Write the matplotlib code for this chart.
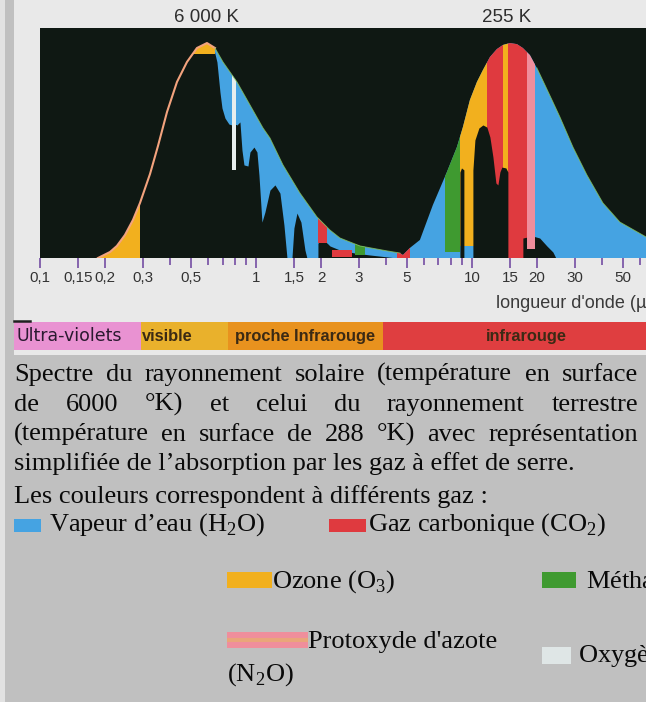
import matplotlib.pyplot as plt
from matplotlib import font_manager
from matplotlib.lines import Line2D
from matplotlib.patches import Polygon, Rectangle

plt.rcParams["mathtext.fontset"] = "custom"
plt.rcParams["mathtext.rm"] = "Liberation Serif"

W, H = 646, 702

# Sun (6000 K) and Earth (255 K) spectra: wavelength in µm, intensity relative to peak
SOLAR_WL = [0.1855, 0.211, 0.227, 0.2474, 0.2695, 0.2904, 0.3232, 0.3518, 0.3873,
            0.4308, 0.4793, 0.5332, 0.5931, 0.6459, 0.7034, 0.8166, 0.9381, 1.0775,
            1.161, 1.3335, 1.5986, 1.9156, 2.2009, 2.4484, 3.0303, 4.042, 4.642]
SOLAR_I = [0.0, 0.028, 0.056, 0.107, 0.177, 0.256, 0.391, 0.521, 0.679,
           0.819, 0.912, 0.977, 1.0, 0.977, 0.912, 0.819, 0.712, 0.605,
           0.558, 0.433, 0.302, 0.191, 0.130, 0.093, 0.056, 0.033, 0.023]

EARTH_WL = [4.793, 5.164, 5.745, 6.598, 7.661, 8.521, 9.084, 9.789, 10.55, 11.24,
            12.12, 13.05, 13.91, 14.99, 16.16, 17.22, 18.56, 19.99, 21.78, 23.71,
            25.55, 27.53, 29.36, 34.08, 40.42, 48.44, 64.0]
EARTH_I = [0.014, 0.047, 0.084, 0.247, 0.400, 0.516, 0.609, 0.735, 0.819, 0.874,
           0.935, 0.972, 0.991, 1.0, 0.995, 0.977, 0.944, 0.884, 0.805, 0.726,
           0.656, 0.581, 0.516, 0.386, 0.256, 0.167, 0.098]

# sunlight that gets through the water-vapour bands (top of the dark area)
PASS_WL = [0.640, 0.6597, 0.6813, 0.6961, 0.7187, 0.7499, 0.774, 0.8166, 0.8432,
           0.8615, 0.8799, 0.9183, 0.9381, 0.9788, 1.0107, 1.0325, 1.0661, 1.1007,
           1.161, 1.2246, 1.2915, 1.3479, 1.3919, 1.4678, 1.4994, 1.5482, 1.6155,
           1.6859, 1.7221, 1.9365, 1.9365, 2.1317, 2.2009, 2.4484, 2.8729, 3.3715,
           4.4966]
PASS_I = [0.967, 0.912, 0.772, 0.698, 0.651, 0.623, 0.619, 0.619, 0.633,
          0.502, 0.433, 0.428, 0.493, 0.516, 0.493, 0.386, 0.167, 0.214,
          0.316, 0.340, 0.302, 0.153, 0.0, 0.0, 0.140, 0.209, 0.167,
          0.037, 0.0, 0.0, 0.070, 0.070, 0.056, 0.037, 0.023, 0.014,
          0.0]

# atmospheric windows of the terrestrial spectrum
WINDOWS = [
    ([8.80, 8.80, 8.95, 9.18, 9.18], [0.0, 0.40, 0.419, 0.41, 0.0]),
    ([10.107, 10.107, 10.325, 10.776, 11.243, 11.73, 12.115, 12.513, 12.915,
      13.195, 13.476, 13.766, 14.366, 14.676, 14.676],
     [0.0, 0.409, 0.549, 0.605, 0.619, 0.609, 0.563, 0.470, 0.349,
      0.340, 0.400, 0.423, 0.419, 0.40, 0.0]),
    ([17.22, 17.22, 17.97, 19.16, 20.6, 22.24, 23.71, 24.48],
     [0.0, 0.093, 0.097, 0.102, 0.093, 0.056, 0.028, 0.0]),
]

# absorption bands: gas, from µm, to µm, lower edge, upper edge (None = spectrum)
BANDS_BACK = [
    ("H2O", 0.6459, 64.0, 0.0, None),
    ("O3", 0.1855, 0.2904, 0.0, None),
    ("CH4", 7.50, 8.80, 0.028, None),
    ("O3", 8.80, 11.73, 0.056, None),
    ("CO2", 11.73, 13.91, 0.0, None),
    ("O3", 13.91, 14.68, 0.0, None),
    ("CO2", 14.68, 17.97, 0.0, None),
]
BANDS_FRONT = [
    ("O3", 0.50, 0.6459, 0.95, None),
    ("O2", 0.774, 0.812, 0.409, None),
    ("CO2", 1.936, 2.132, 0.07, None),
    ("CO2", 2.249, 2.78, 0.005, 0.037),
    ("CH4", 2.87, 3.20, 0.014, None),
    ("CO2", 4.50, 5.16, 0.0, None),
    ("N2O", 17.97, 19.57, 0.04, None),
]
GAS_COLORS = {"H2O": "#45a3e2", "CO2": "#df3a3f", "O3": "#f2b01e",
              "CH4": "#3f9a30", "N2O": "#ef8e9c", "O2": "#e6eeee"}
BG = "#0f1813"

MAJOR = [0.1, 0.15, 0.2, 0.3, 0.5, 1, 1.5, 2, 3, 5, 10, 15, 20, 30, 50]
MAJOR_LABELS = ["0,1", "0,15", "0,2", "0,3", "0,5", "1", "1,5", "2", "3", "5",
                "10", "15", "20", "30", "50"]
MINOR = [0.4, 0.6, 0.7, 0.8, 0.9, 4, 6, 7, 8, 9, 40, 60]

RANGE_EDGES = [0.0758, 0.2935, 0.741, 3.87, 64.0]
RANGE_NAMES = ["Ultra-violets", "visible", "proche Infrarouge", "infrarouge"]
RANGE_COLORS = ["#e992d2", "#e9b12c", "#e8921e", "#df3e40"]
RANGE_TEXT_X = [16, 142, 235, 486]

CAPTION = [
    "Spectre du rayonnement solaire (température en surface",
    "de 6000 °K) et celui du rayonnement terrestre",
    "(température en surface de 288 °K) avec représentation",
    "simplifiée de l’absorption par les gaz à effet de serre.",
    "Les couleurs correspondent à différents gaz :",
]
CAPTION_BASE = [381, 411, 441, 470, 503]

# legend: gas, swatch box (x0, y0, x1, y1) in pixels, label, label position
LEGEND = [
    ("H2O", (14, 519, 41, 532), r"Vapeur d’eau (H$_\mathrm{2}$O)", (49, 531)),
    ("CO2", (329, 519, 366, 532), r"Gaz carbonique (CO$_\mathrm{2}$)", (368, 531)),
    ("O3", (227, 572, 272, 588), r"Ozone (O$_\mathrm{3}$)", (272, 588)),
    ("CH4", (542, 572, 576, 588), r"Méthane (CH$_\mathrm{4}$)", (586, 588)),
    ("N2O", (227, 632, 308, 648), "Protoxyde d'azote", (308, 648)),
    ("O2", (542, 647, 571, 664), r"Oxygène (O$_\mathrm{2}$)", (578, 662)),
]


def fx(x):
    return x / W


def fy(y):
    return 1 - y / H


def fig_rect(fig, x0, y0, x1, y1, color, z=-2):
    fig.patches.append(Rectangle((fx(x0), fy(y1)), (x1 - x0) / W, (y1 - y0) / H,
                                 transform=fig.transFigure, facecolor=color,
                                 edgecolor="none", zorder=z))


def justify(fig, line, base, x0, x1, **kw):
    words = line.split()
    texts = [fig.text(0, fy(base), w, va="baseline", **kw) for w in words]
    r = fig.canvas.get_renderer()
    widths = [t.get_window_extent(r).width for t in texts]
    gap = (x1 - x0 - sum(widths)) / (len(words) - 1)
    x = x0
    for t, w in zip(texts, widths):
        t.set_x(fx(x))
        x += w + gap


def main():
    names = {f.name for f in font_manager.fontManager.ttflist}
    narrow = "Liberation Sans Narrow" if "Liberation Sans Narrow" in names else "Liberation Sans"
    squeeze = 1.0 if narrow == "Liberation Sans Narrow" else 0.84

    fig = plt.figure(figsize=(W / 100, H / 100), dpi=100, facecolor="#c0c0c0")
    fig_rect(fig, 0, 0, 5, H, "#e2e2e2")
    fig_rect(fig, 14, 0, W, 355, "#e9e9e9")

    ax = fig.add_axes([fx(40), fy(258), 1 - fx(40), 230 / H])
    ax.set_facecolor(BG)
    ax.set_xscale("log")
    ax.set_xlim(0.1, 64)
    ax.set_ylim(0, 1.07)
    for s in ax.spines.values():
        s.set_visible(False)
    ax.set_yticks([])

    env_wl = SOLAR_WL + EARTH_WL
    env_i = SOLAR_I + EARTH_I
    env = Polygon([(env_wl[0], 0)] + list(zip(env_wl, env_i)) + [(env_wl[-1], 0)],
                  closed=True, facecolor="none", edgecolor="none")
    ax.add_patch(env)

    def band(gas, lo, hi, bottom, top):
        top = 1.1 if top is None else top
        r = Rectangle((lo, bottom), hi - lo, top - bottom,
                      facecolor=GAS_COLORS[gas], edgecolor="none")
        ax.add_patch(r)
        r.set_clip_path(env)

    for b in BANDS_BACK:
        band(*b)
    dark = ax.fill_between(PASS_WL, 0, PASS_I, color=BG, lw=0)
    dark.set_clip_path(env)
    for wl, top in WINDOWS:
        w = ax.fill_between(wl, 0, top, color=BG, lw=0)
        w.set_clip_path(env)
    for b in BANDS_FRONT:
        band(*b)

    ax.plot(SOLAR_WL[:14], SOLAR_I[:14], color="#f3a37e", lw=1.5)
    ax.plot(SOLAR_WL[13:], SOLAR_I[13:], color="#86c25a", lw=0.7, alpha=0.8)
    ax.plot(EARTH_WL[17:], EARTH_I[17:], color="#86c25a", lw=0.7, alpha=0.8)

    ax.set_xticks(MAJOR)
    ax.set_xticklabels(MAJOR_LABELS)
    ax.set_xticks(MINOR, minor=True)
    ax.xaxis.set_minor_formatter(plt.NullFormatter())
    ax.tick_params(axis="x", which="major", length=7, width=1.3, color="#7d5aa8",
                   pad=2, labelsize=13 * squeeze, labelcolor="#333333")
    ax.tick_params(axis="x", which="minor", length=5, width=1.3, color="#7d5aa8")
    for lbl in ax.get_xticklabels():
        lbl.set_family(narrow)

    fig.text(fx(207), fy(18), "6 000 K", ha="center", va="center", size=13.5,
             color="#2e2e2e", family="Liberation Sans")
    fig.text(fx(507), fy(18), "255 K", ha="center", va="center", size=13.5,
             color="#2e2e2e", family="Liberation Sans")
    fig.text(fx(496), fy(303), "longueur d'onde (µm)", ha="left", va="center",
             size=13, color="#3a3a3a", family="Liberation Sans")

    # spectral ranges strip
    bax = fig.add_axes([fx(14), fy(350), 1 - fx(14), 28 / H])
    bax.set_xscale("log")
    bax.set_xlim(RANGE_EDGES[0], RANGE_EDGES[-1])
    bax.set_ylim(0, 1)
    bax.axis("off")
    for lo, hi, c in zip(RANGE_EDGES[:-1], RANGE_EDGES[1:], RANGE_COLORS):
        bax.axvspan(lo, hi, color=c, lw=0)
    fig.lines.append(Line2D([fx(14), fx(30)], [fy(321), fy(321)], color="#202020",
                            lw=1.8, transform=fig.transFigure))
    for name, x in zip(RANGE_NAMES, RANGE_TEXT_X):
        if name == "Ultra-violets":
            fig.text(fx(x), fy(336), name, ha="left", va="center", size=12.5,
                     color="#2a1a30", family="DejaVu Sans")
        else:
            fig.text(fx(x), fy(336), name, ha="left", va="center", size=14 * squeeze,
                     color="#3b2a14", family=narrow, weight="bold")

    serif = dict(family="Liberation Serif", size=19, color="#0a0a0a")
    for i, (line, base) in enumerate(zip(CAPTION, CAPTION_BASE)):
        if i < 3:
            justify(fig, line, base, 14, 638, **serif)
        else:
            fig.text(fx(14), fy(base), line, va="baseline", **serif)

    for gas, (x0, y0, x1, y1), label, (tx, ty) in LEGEND:
        fig_rect(fig, x0, y0, x1, y1, GAS_COLORS[gas] if gas != "O2" else "#dfe6e6", z=1)
        if gas == "N2O":
            fig_rect(fig, x0, y0 + 6, x1, y0 + 10, "#e9a57a", z=1)
        fig.text(fx(tx), fy(ty), label, va="baseline", **serif)
    fig.text(fx(227), fy(681), r"(N$_\mathrm{2}$O)", va="baseline", **serif)

    fig.savefig("out.png", dpi=100, facecolor=fig.get_facecolor())


if __name__ == "__main__":
    main()
